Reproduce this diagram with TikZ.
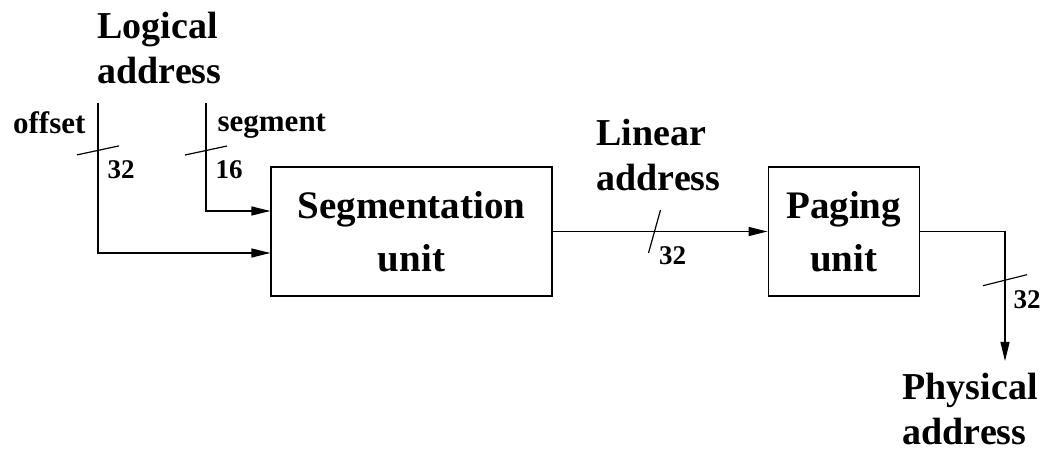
\documentclass[tikz,border=0pt]{standalone}
\usepackage{fontspec}
\setmainfont{Liberation Serif}
\usepackage{tikz}
\usetikzlibrary{arrows.meta,positioning}

\begin{document}
\begin{tikzpicture}[
                x=0.5pt, y=-0.5pt,
                >={Triangle[length=9.5pt,width=4.5pt]},
                every path/.style={line width=0.6pt},
                unitbox/.style={draw, minimum width=140.5pt, minimum height=64.5pt,
                    align=center, font=\fontsize{19.5}{26.5}\selectfont\bfseries},
                head/.style={inner sep=0pt, align=left,
                    font=\fontsize{19}{22.5}\selectfont\bfseries},
                wire/.style={inner sep=0pt, font=\fontsize{15.5}{18}\selectfont\bfseries},
                width/.style={inner sep=0pt, font=\fontsize{13.5}{15}\selectfont\bfseries},
                on grid]
            \useasboundingbox (0,0) rectangle (1045,454);

            \node[unitbox]          (seg) at (411.5,231.5)      {Segmentation\\unit};
            \node[unitbox, minimum width=75.5pt, on grid=false]
                                    (pag) [right=107.5pt of seg] {Paging\\unit};

            \node[head, anchor=west] (logaddr) at (97,48)       {Logical\\address};
            \node[head, anchor=west] (linaddr) at (596,155)     {Linear\\address};
            \node[head, anchor=west] (phyaddr) at (902,409)     {Physical\\address};

            \node[wire, anchor=east] (offlbl) at (86,123)       {offset};
            \node[wire, anchor=west] (seglbl) at (217,126)      {segment};

            \coordinate (offtop)  at (98,103);
            \coordinate (segtop)  at (206,103);
            \coordinate (physend) at (1005,361);

            \path[->]
            (offtop)
                edge [to path={|- (\tikztotarget) \tikztonodes}] ([yshift=-10.75pt]seg.west)
            (segtop)
                edge [to path={|- (\tikztotarget) \tikztonodes}] ([yshift=10.25pt]seg.west)
            (seg)
                edge (pag)
            (pag.east)
                edge [to path={-| (\tikztotarget) \tikztonodes}] (physend);

            % bus width marks
            \path (offtop) |- ([yshift=-10.75pt]seg.west) coordinate[pos=0.158] (offbus);
            \path (segtop) |- ([yshift=10.25pt]seg.west) coordinate[pos=0.22] (segbus);
            \path (seg.east) -- (pag.west) coordinate[pos=0.474] (linbus);
            \path (pag.east) -| (physend) coordinate[pos=0.688] (phybus);

            \draw (offbus) ++(-21,4.5) -- ++(42,-9);
            \draw (segbus) ++(-21,4.5) -- ++(42,-9);
            \draw (linbus) ++(-6,21.5) -- ++(12,-43);
            \draw (phybus) ++(-22,5.5) -- ++(44,-11);

            \node[width] (offw) at ([shift={(23,19.5)}]offbus) {32};
            \node[width] (segw) at ([shift={(23,19.5)}]segbus) {16};
            \node[width] (linw) at ([shift={(18,24)}]linbus)   {32};
            \node[width] (phyw) at ([shift={(22,19.5)}]phybus) {32};
        \end{tikzpicture}
\end{document}
